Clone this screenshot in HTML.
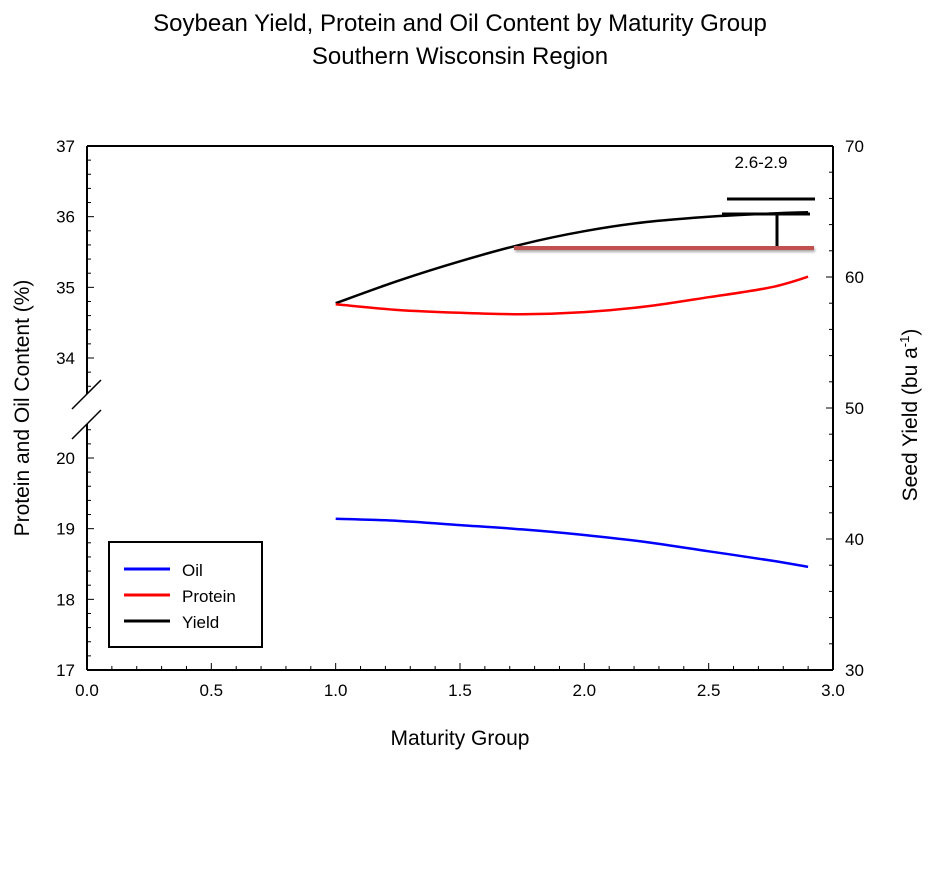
<!DOCTYPE html>
<html><head><meta charset="utf-8"><style>
body{margin:0;background:#fff}
text{font-family:"Liberation Sans",Arial,sans-serif}
</style></head><body>
<svg id="chart" width="928" height="874" xmlns="http://www.w3.org/2000/svg">
<defs><filter id="sh" filterUnits="userSpaceOnUse" x="500" y="235" width="330" height="30"><feDropShadow dx="1" dy="2" stdDeviation="1.2" flood-color="#000" flood-opacity="0.35"/></filter></defs>
<text x="460" y="31" font-size="24" text-anchor="middle">Soybean Yield, Protein and Oil Content by Maturity Group</text>
<text x="460" y="64" font-size="24" text-anchor="middle">Southern Wisconsin Region</text>
<g id="axes"></g>
<g id="marks"></g>
<text x="460" y="745" font-size="21" text-anchor="middle">Maturity Group</text>
<text transform="translate(29,408) rotate(-90)" font-size="21" text-anchor="middle">Protein and Oil Content (%)</text>
<text transform="translate(917,415) rotate(-90)" font-size="21" text-anchor="middle">Seed Yield (bu a<tspan dy="-8" font-size="13">-1</tspan><tspan dy="8">)</tspan></text>
<g>
<rect x="109" y="542" width="153" height="105" fill="#fff" stroke="#000" stroke-width="2"/>
<line x1="124" y1="569" x2="170" y2="569" stroke="#0000ff" stroke-width="3"/>
<text x="182" y="576" font-size="17">Oil</text>
<line x1="124" y1="595" x2="170" y2="595" stroke="#ff0000" stroke-width="3"/>
<text x="182" y="602" font-size="17">Protein</text>
<line x1="124" y1="621" x2="170" y2="621" stroke="#000" stroke-width="3"/>
<text x="182" y="628" font-size="17">Yield</text>
</g>
<g>
<text x="761" y="168" font-size="17" text-anchor="middle">2.6-2.9</text>
<line x1="727" y1="199" x2="815" y2="199" stroke="#000" stroke-width="3"/>
<line x1="722" y1="214" x2="810" y2="214" stroke="#000" stroke-width="3"/>
<line x1="777" y1="214" x2="777" y2="247" stroke="#000" stroke-width="3"/>
<rect x="514" y="246" width="300" height="4" fill="#c0504d" filter="url(#sh)"/>
</g>
</svg>
<script>
const maturity=[1.0,1.25,1.5,1.75,2.0,2.25,2.5,2.75,2.9];
const yieldVals=[58.0,59.7,61.2,62.5,63.5,64.2,64.6,64.85,64.95];
const proteinVals=[34.76,34.68,34.64,34.62,34.65,34.73,34.86,35.0,35.15];
const oilVals=[19.14,19.11,19.05,18.99,18.91,18.81,18.68,18.55,18.46];
const xTicks=["0.0","0.5","1.0","1.5","2.0","2.5","3.0"];
const leftTopTicks=["34","35","36","37"];
const leftBotTicks=["17","18","19","20"];
const rightTicks=["30","40","50","60","70"];

const NS="http://www.w3.org/2000/svg";
const X0=87,X1=833,YT=146,YB=670;
const xs=v=>X0+(v/3)*(X1-X0);
const yTop=v=>146+(37-v)*70.67;
const yBot=v=>458+(20-v)*70.67;
const yR=v=>YT+(70-v)*(YB-YT)/40;
const axes=document.getElementById('axes'),marks=document.getElementById('marks');
function mk(tag,attrs,parent){const e=document.createElementNS(NS,tag);for(const k in attrs)e.setAttribute(k,attrs[k]);parent.appendChild(e);return e;}
function ln(x1,y1,x2,y2,w,p){return mk('line',{x1,y1,x2,y2,stroke:'#000','stroke-width':w},p);}
function tx(x,y,s,anchor,p){const t=mk('text',{x,y,'font-size':17,'text-anchor':anchor},p);t.textContent=s;return t;}

let a;
a=ln(X0,YT,X1,YT,2,axes);
a=ln(X0,YB,X1,YB,2,axes);
a=ln(X1,YT,X1,YB,2,axes);
a=ln(X0,YT,X0,394,2,axes);
a=ln(X0,424,X0,YB,2,axes);
a=ln(72,409,101,380,1.5,axes);
a=ln(72,439,101,410,1.5,axes);

for(let i=0;i<=30;i++){const v=i/10,x=xs(v);ln(x,YB,x,YB-(i%5==0?7:4),1,axes);}
xTicks.forEach(s=>{const t=tx(xs(+s),YB+26,s,'middle',axes);});
for(let v=33.6;v<=37.001;v+=0.2){const y=yTop(v);if(y>394)continue;const maj=Math.abs(v-Math.round(v))<0.01;ln(X0,y,X0+(maj?7:4),y,1,axes);}
leftTopTicks.forEach(s=>{const t=tx(X0-12,yTop(+s)+6,s,'end',axes);});
for(let v=17;v<=20.5;v+=0.2){const y=yBot(v);if(y<424)continue;const maj=Math.abs(v-Math.round(v))<0.01;ln(X0,y,X0+(maj?7:4),y,1,axes);}
leftBotTicks.forEach(s=>{const t=tx(X0-12,yBot(+s)+6,s,'end',axes);});
for(let v=30;v<=70;v+=2){const y=yR(v);ln(X1,y,X1-(v%10==0?7:4),y,1,axes);}
rightTicks.forEach(s=>{const t=tx(X1+12,yR(+s)+6,s,'start',axes);});

function series(vals,yf,color,name){
  const pts=maturity.map((m,i)=>[xs(m),yf(vals[i])]);
  let d='M'+pts[0][0].toFixed(1)+','+pts[0][1].toFixed(1);
  for(let i=0;i<pts.length-1;i++){
    const p0=pts[Math.max(0,i-1)],p1=pts[i],p2=pts[i+1],p3=pts[Math.min(pts.length-1,i+2)];
    const c1=[p1[0]+(p2[0]-p0[0])/6,p1[1]+(p2[1]-p0[1])/6],c2=[p2[0]-(p3[0]-p1[0])/6,p2[1]-(p3[1]-p1[1])/6];
    d+=' C'+c1[0].toFixed(1)+','+c1[1].toFixed(1)+' '+c2[0].toFixed(1)+','+c2[1].toFixed(1)+' '+p2[0].toFixed(1)+','+p2[1].toFixed(1);
  }
  const p=mk('path',{d,fill:'none',stroke:color,'stroke-width':2.5,'stroke-linejoin':'round'},marks);
  
  
}
series(yieldVals,yR,'#000','yield-line');
series(proteinVals,yTop,'#ff0000','protein-line');
series(oilVals,yBot,'#0000ff','oil-line');
</script>
</body></html>
